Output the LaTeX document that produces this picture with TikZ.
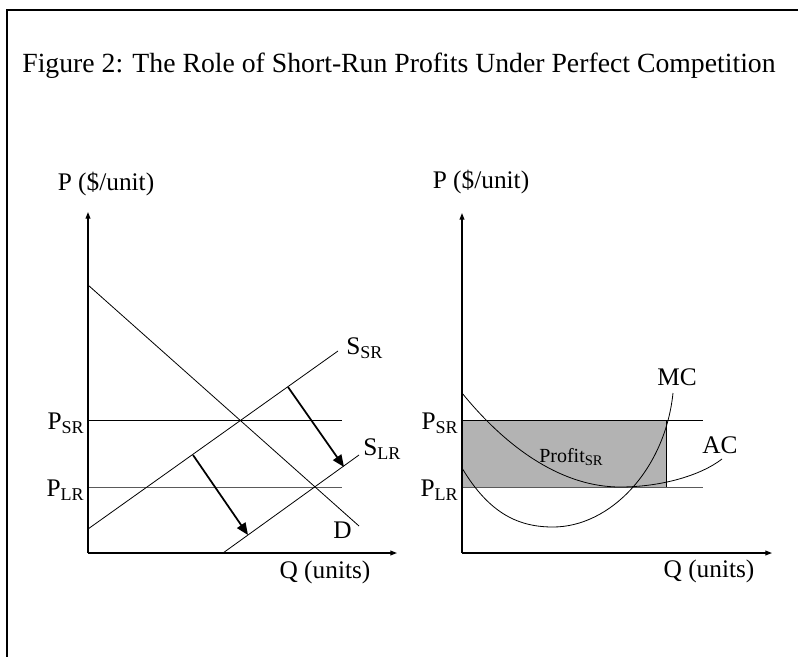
\documentclass[tikz,border=0pt]{standalone}
\usepackage{fontspec}
\setmainfont{Liberation Serif}
\usetikzlibrary{arrows.meta}
\definecolor{profitgray}{HTML}{B3B3B3}
\definecolor{lrgray}{HTML}{5A5A5A}
\newcommand{\subtx}[1]{\raisebox{-0.42ex}{\fontsize{13.5}{13.5}\selectfont #1}}
\newcommand{\smallsubtx}[1]{\raisebox{-0.4ex}{\fontsize{11}{11}\selectfont #1}}

\begin{document}
\begin{tikzpicture}[x=0.75pt,y=-0.75pt,>={Triangle[length=5pt,width=3.6pt]},font=\fontsize{19}{19}\selectfont]
  \tikzstyle{axis}=[line width=0.9pt, ->]
  \tikzstyle{curve}=[line width=0.6pt]
  \tikzstyle{price}=[line width=0.6pt]
  \tikzstyle{lrprice}=[line width=0.6pt, draw=lrgray]
  \tikzstyle{supplyshift}=[line width=1.3pt, -{Triangle[length=9pt,width=7.5pt]}]
  \tikzstyle{label}=[inner sep=0pt]

  \useasboundingbox (0,0) rectangle (798,656);
  \clip (0,0) rectangle (798,656);
  \draw[line width=1.8pt] (7,10) rectangle (830,690);
  \node[label, anchor=base] (title) at (399,73)
    {\fontsize{20.8}{20.8}\selectfont Figure 2: The Role of Short-Run Profits Under Perfect Competition};

  % market
  \coordinate (lo) at (88,553);
  \coordinate (ltop) at (88,212);
  \coordinate (lright) at (397,553);
  \draw[price] (88,420) coordinate (lsr) -- (342,420) coordinate (lsrend);
  \draw[lrprice] (88,487) coordinate (llr) -- (342,487) coordinate (llrend);
  \draw[curve] (88,285) coordinate (d0) -- (359,526) coordinate (d1);
  \draw[curve] (88,529) coordinate (ssr0) -- (338,351) coordinate (ssr1);
  \draw[curve] (223,553) coordinate (slr0) -- (359,455) coordinate (slr1);
  \coordinate (a1) at (288,387);
  \coordinate (b1) at (344,467);
  \coordinate (a2) at (193,455);
  \coordinate (b2) at (248,535);
  \draw[supplyshift] (a1) -- (b1);
  \draw[supplyshift] (a2) -- (b2);
  \draw[axis] (lo) -- (ltop);
  \draw[axis] (lo) -- (lright);

  \node[label, anchor=base] (lpaxis) at (106,190) {P (\$/unit)};
  \node[label, anchor=base] (lqaxis) at (325,578) {Q (units)};
  \node[label, anchor=base east] (lpsr) at (84,429) {P\subtx{SR}};
  \node[label, anchor=base east] (lplr) at (84,496) {P\subtx{LR}};
  \node[label, anchor=base west] (ssr) at (346,354) {S\subtx{SR}};
  \node[label, anchor=base west] (slr) at (363,455) {S\subtx{LR}};
  \node[label, anchor=base west] (dlab) at (333,538) {D};

  % firm
  \coordinate (ro) at (462,553);
  \coordinate (rtop) at (462,213);
  \coordinate (rright) at (772,553);
  \fill[profitgray] (462,420) rectangle (666,487);
  \draw[price] (462,420) -- (703,420);
  \draw[lrprice] (462,487) -- (703,487);
  \draw[price] (666,420) -- (666,487);
  \draw[curve] (462,393) .. controls (510,452) and (565,487) .. (620,487)
    .. controls (660,487) and (700,476) .. (722,459);
  \draw[curve] (462,468) .. controls (490,515) and (520,527) .. (553,527)
    .. controls (610,527) and (665,470) .. (673,393);
  \draw[axis] (ro) -- (rtop);
  \draw[axis] (ro) -- (rright);

  \node[label, anchor=base] (rpaxis) at (481,188) {P (\$/unit)};
  \node[label, anchor=base] (rqaxis) at (709,577) {Q (units)};
  \node[label, anchor=base east] (rpsr) at (458,429) {P\subtx{SR}};
  \node[label, anchor=base east] (rplr) at (458,496) {P\subtx{LR}};
  \node[label, anchor=base west] (mc) at (657,385) {MC};
  \node[label, anchor=base west] (ac) at (702,453) {AC};
  \node[label, anchor=base west] (profit) at (539,462)
    {\fontsize{15}{15}\selectfont Profit\smallsubtx{SR}};
\end{tikzpicture}
\end{document}
